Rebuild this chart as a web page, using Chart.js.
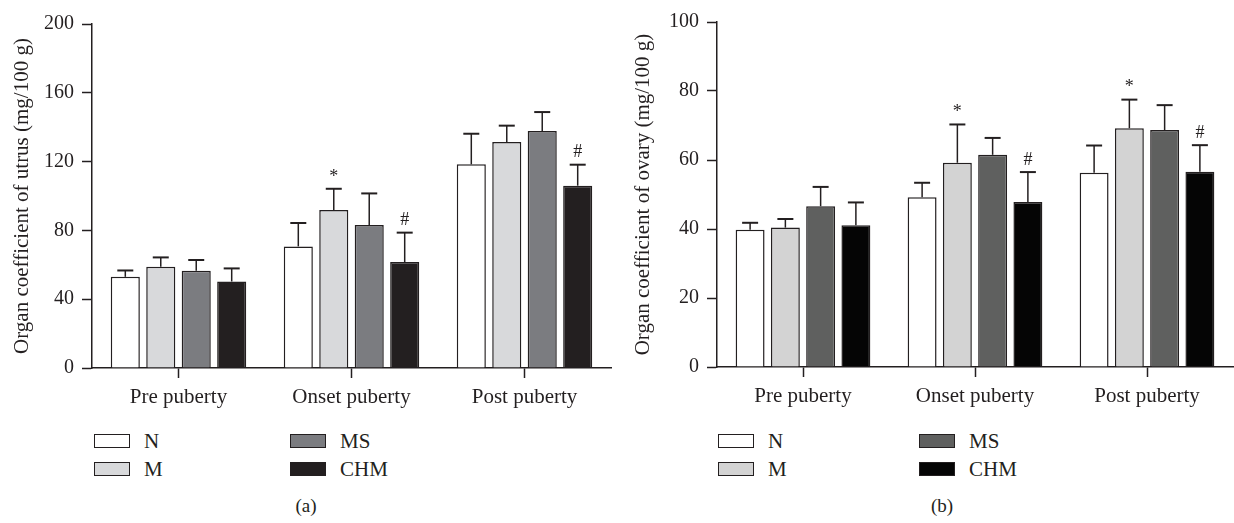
<!DOCTYPE html>
<html>
<head>
<meta charset="utf-8">
<script src="https://cdn.jsdelivr.net/npm/chart.js@4.4.0/dist/chart.umd.min.js"></script>
<style>
    body { margin: 0; background: #fff; width: 1234px; height: 523px; position: relative; overflow: hidden;
           font-family: "Liberation Serif", "DejaVu Serif", serif; color: #231f20; }
    .panel { position: absolute; top: 0; width: 617px; height: 523px; }
    .panel canvas { position: absolute; left: 0; top: 0; }
    .key { position: absolute; width: 34px; height: 12px; border: 1.5px solid #231f20; }
    .lbl { position: absolute; font-size: 21px; line-height: 20px; }
    .cap { position: absolute; font-size: 19px; line-height: 20px; top: 496px; transform: translateX(-50%); }
</style>
</head>
<body>
<div class="panel" id="panelA" style="left:0"><canvas id="uterusChart" width="617" height="420"></canvas></div>
<div class="panel" id="panelB" style="left:617px"><canvas id="ovaryChart" width="617" height="420"></canvas></div>

<script>
// categories and groups
const stages = ['Pre puberty', 'Onset puberty', 'Post puberty'];
const groups = ['N', 'M', 'MS', 'CHM'];

// uterus (a): mean and SD per group
const uterusN = [53.0, 70.7, 118.4];
const uterusM = [58.9, 91.9, 131.4];
const uterusMS = [56.6, 83.1, 137.8];
const uterusCHM = [50.3, 61.6, 106.0];
const uterusSdN = [3.7, 13.6, 17.8];
const uterusSdM = [5.4, 12.3, 9.5];
const uterusSdMS = [6.2, 18.4, 11.0];
const uterusSdCHM = [7.6, 17.1, 12.2];

// ovary (b)
const ovaryN = [39.8, 49.2, 56.3];
const ovaryM = [40.4, 59.2, 69.2];
const ovaryMS = [46.6, 61.5, 68.7];
const ovaryCHM = [41.1, 47.8, 56.6];
const ovarySdN = [2.0, 4.2, 7.9];
const ovarySdM = [2.5, 11.1, 8.3];
const ovarySdMS = [5.6, 4.9, 7.2];
const ovarySdCHM = [6.6, 8.7, 7.7];

// significance marks above the error bars
const uterusMarks = [['', '', ''], ['', '*', ''], ['', '', ''], ['', '#', '#']];
const ovaryMarks = [['', '', ''], ['', '*', '*'], ['', '', ''], ['', '#', '#']];

// tick settings
const uterusTicks = { max: 200, step: 40 };
const ovaryTicks = { max: 100, step: 20 };

const ink = '#231f20';
const serif = '"Liberation Serif", "DejaVu Serif", serif';
const uterusColors = ['#ffffff', '#d8d9db', '#7b7c80', '#231f20'];
const ovaryColors = ['#ffffff', '#d3d3d3', '#5f605f', '#050505'];

// draws SD whiskers and the * / # marks
const errorBars = {
    id: 'errorBars',
    afterDatasetsDraw(chart) {
        const ctx = chart.ctx;
        const yScale = chart.scales.y;
        chart.data.datasets.forEach((ds, i) => {
            chart.getDatasetMeta(i).data.forEach((bar, j) => {
                const top = yScale.getPixelForValue(ds.data[j] + ds.sd[j]);
                ctx.save();
                ctx.strokeStyle = ink;
                ctx.lineWidth = 1.5;
                ctx.beginPath();
                ctx.moveTo(bar.x, bar.y);
                ctx.lineTo(bar.x, top);
                ctx.stroke();
                ctx.lineWidth = 2;
                ctx.beginPath();
                ctx.moveTo(bar.x - 8, top);
                ctx.lineTo(bar.x + 8, top);
                ctx.stroke();
                if (ds.marks[j]) {
                    ctx.fillStyle = ink;
                    ctx.font = '18px ' + serif;
                    ctx.textAlign = 'center';
                    ctx.textBaseline = 'bottom';
                    ctx.fillText(ds.marks[j], bar.x, top - 3);
                }
                ctx.restore();
            });
        });
    }
};

function makeChart(canvasId, series, sds, marks, colors, ticks, title, box) {
    const datasets = groups.map((g, i) => ({
        label: g,
        data: series[i],
        sd: sds[i],
        marks: marks[i],
        backgroundColor: colors[i],
        borderColor: ink,
        borderWidth: 1.5,
        categoryPercentage: 0.82,
        barPercentage: 0.82
    }));

    return new Chart(document.getElementById(canvasId), {
        type: 'bar',
        data: { labels: stages, datasets },
        options: {
            responsive: false,
            animation: false,
            layout: { padding: { top: box.top, right: box.right, left: 0, bottom: 0 } },
            plugins: { legend: { display: false }, tooltip: { enabled: false } },
            scales: {
                x: {
                    afterFit: (s) => { s.height = box.xHeight; },
                    grid: { offset: false, drawOnChartArea: false, tickLength: 10, tickWidth: 1.5, color: ink },
                    border: { color: ink, width: 1.5 },
                    ticks: { color: ink, padding: 7, font: { family: serif, size: 21 } }
                },
                y: {
                    min: 0,
                    max: ticks.max,
                    afterFit: (s) => { s.width = box.yWidth; },
                    grid: { drawOnChartArea: false, tickLength: 10, tickWidth: 1.5, color: ink },
                    border: { color: ink, width: 1.5 },
                    ticks: { stepSize: ticks.step, color: ink, padding: 8, font: { family: serif, size: 20 } },
                    title: { display: true, text: title, color: ink, padding: { top: box.titlePad, bottom: 0 },
                             font: { family: serif, size: 21 } }
                }
            }
        },
        plugins: [errorBars]
    });
}

// simple 2x2 legend and panel caption
function addLegend(panelId, colors, keyX, keyY, caption, captionX) {
    const panel = document.getElementById(panelId);
    groups.forEach((g, i) => {
        const col = Math.floor(i / 2), row = i % 2;
        const key = document.createElement('div');
        key.className = 'key';
        key.style.left = keyX[col] + 'px';
        key.style.top = keyY[row] + 'px';
        key.style.background = colors[i];
        panel.appendChild(key);
        const lbl = document.createElement('div');
        lbl.className = 'lbl';
        lbl.textContent = g;
        lbl.style.left = (keyX[col] + 50) + 'px';
        lbl.style.top = (keyY[row] - 3) + 'px';
        panel.appendChild(lbl);
    });
    const cap = document.createElement('div');
    cap.className = 'cap';
    cap.textContent = caption;
    cap.style.left = captionX + 'px';
    panel.appendChild(cap);
}

makeChart('uterusChart',
    [uterusN, uterusM, uterusMS, uterusCHM],
    [uterusSdN, uterusSdM, uterusSdMS, uterusSdCHM],
    uterusMarks, uterusColors, uterusTicks,
    'Organ coefficient of utrus (mg/100 g)',
    { top: 24, right: 6, xHeight: 52, yWidth: 92, titlePad: 10 });

makeChart('ovaryChart',
    [ovaryN, ovaryM, ovaryMS, ovaryCHM],
    [ovarySdN, ovarySdM, ovarySdMS, ovarySdCHM],
    ovaryMarks, ovaryColors, ovaryTicks,
    'Organ coefficient of ovary (mg/100 g)',
    { top: 22, right: 1, xHeight: 53, yWidth: 100, titlePad: 14 });

addLegend('panelA', uterusColors, [94, 290], [434, 462], '(a)', 306);
addLegend('panelB', ovaryColors, [101, 302], [434, 462], '(b)', 325);
</script>
</body>
</html>
